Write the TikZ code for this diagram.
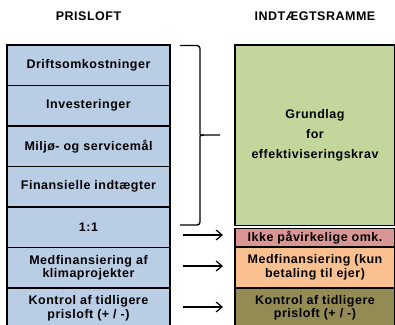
\documentclass[tikz,border=0pt]{standalone}
\usepackage{fontspec}
\setmainfont{Liberation Sans}[LetterSpace=4]
\usetikzlibrary{arrows.meta}
\definecolor{lblue}{HTML}{B9CDE5}
\definecolor{lgreen}{HTML}{C3D69B}
\definecolor{lred}{HTML}{D99694}
\definecolor{lpeach}{HTML}{FAC090}
\definecolor{lolive}{HTML}{948A54}
\tikzset{
  cell/.style={draw=black, line width=1.6pt, inner sep=0pt, align=center,
    font=\fontsize{12.5}{13.5}\selectfont\bfseries},
  lcell/.style={cell, fill=lblue, minimum width=163pt, minimum height=40.5pt},
  rcell/.style={cell, minimum width=160pt},
  hdr/.style={font=\fontsize{12.5}{13.5}\selectfont\bfseries, inner sep=0pt},
  arr/.style={line width=1.2pt, -{Straight Barb[length=6pt,width=10pt,line width=1.2pt]}},
  brace/.style={line width=1.3pt, rounded corners=3pt}
}
\begin{document}
\begin{tikzpicture}[x=1pt,y=-1pt]
\useasboundingbox (0,0) rectangle (395,324);
\clip (0,0) rectangle (395,324);
% headers
\node[hdr] (h1) at (88.5,16) {PRISLOFT};
\node[hdr] (h2) at (315,16) {INDTÆGTSRAMME};
% left column
\node[lcell] (l1) at (88.5,65.25) {Driftsomkostninger};
\node[lcell] (l2) at (88.5,105.75) {Investeringer};
\node[lcell] (l3) at (88.5,146.25) {Miljø- og servicemål};
\node[lcell] (l4) at (88.5,186.75) {Finansielle indtægter};
\node[lcell] (l5) at (88.5,227.25) {1:1};
\node[lcell] (l6) at (88.5,267.75) {Medfinansiering af\\klimaprojekter};
\node[lcell] (l7) at (88.5,308.25) {Kontrol af tidligere\\prisloft (+ / -)};
% right column
\node[rcell, fill=lgreen, minimum height=180.5pt, font=\fontsize{12.5}{20}\selectfont\bfseries] (r1) at (315,135.25) {Grundlag\\for\\effektiviseringskrav};
\node[rcell, fill=lred, minimum height=18.5pt] (r2) at (315,237.75) {Ikke påvirkelige omk.};
\node[rcell, fill=lpeach, minimum height=40.5pt] (r3) at (315,267.5) {Medfinansiering (kun\\betaling til ejer)};
\node[rcell, fill=lolive, minimum height=40.5pt] (r4) at (315,308) {Kontrol af tidligere\\prisloft (+ / -)};
% brace
\draw[brace] (180,45.5) -- (200,45.5) -- (200,131)
  .. controls (200,134) and (201,135) .. (204,135) -- (220,135);
\draw[brace] (180,225) -- (200,225) -- (200,139)
  .. controls (200,136) and (201,135) .. (204,135);
% arrows
\coordinate (a1s) at (183,235); \coordinate (a1e) at (223,235);
\coordinate (a2s) at (183,266); \coordinate (a2e) at (223,266);
\coordinate (a3s) at (183,307); \coordinate (a3e) at (223,307);
\draw[arr] (a1s) -- (a1e);
\draw[arr] (a2s) -- (a2e);
\draw[arr] (a3s) -- (a3e);
\end{tikzpicture}
\end{document}
